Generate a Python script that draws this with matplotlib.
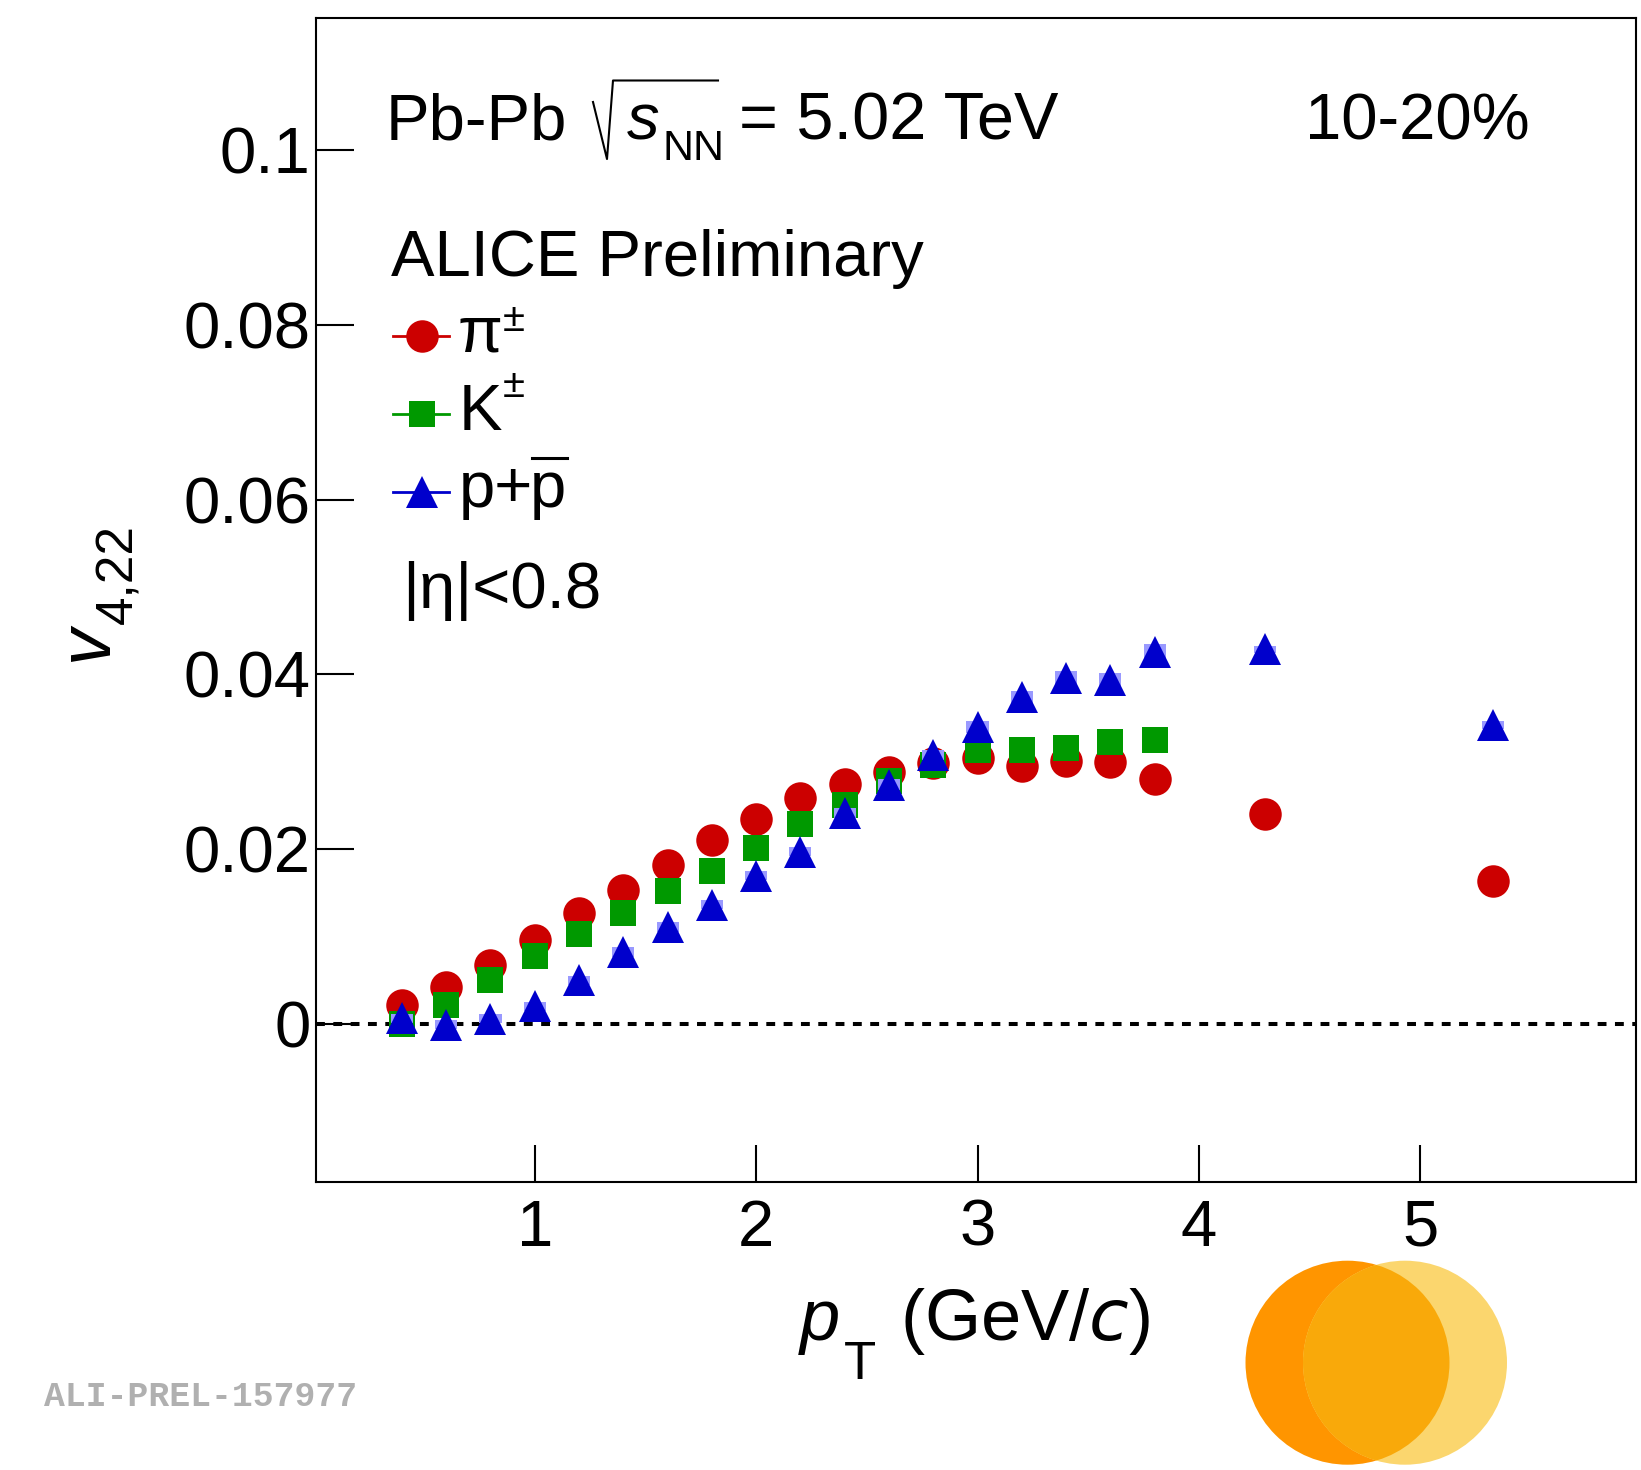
import matplotlib
matplotlib.use('Agg')
import matplotlib.pyplot as plt
from matplotlib.lines import Line2D
from matplotlib.patches import Ellipse

W, H = 1641, 1470
plt.rcParams['font.family'] = ['Liberation Sans', 'DejaVu Sans']

# ---------------- data ----------------
pt_pi = [0.4, 0.6, 0.8, 1.0, 1.2, 1.4, 1.6, 1.8, 2.0, 2.2, 2.4, 2.6, 2.8, 3.0, 3.2, 3.4, 3.6, 3.8, 4.3, 5.33]
v4_pi = [0.00218, 0.0042, 0.00676, 0.00954, 0.0127, 0.01532, 0.01821, 0.02103, 0.02341, 0.02585,
         0.02746, 0.02879, 0.02984, 0.03041, 0.02951, 0.03011, 0.02999, 0.02803, 0.02404, 0.01634]

pt_k = [0.4, 0.6, 0.8, 1.0, 1.2, 1.4, 1.6, 1.8, 2.0, 2.2, 2.4, 2.6, 2.8, 3.0, 3.2, 3.4, 3.6, 3.8]
v4_k = [0.0000, 0.00214, 0.0050, 0.0078, 0.0103, 0.01271, 0.0152, 0.01746, 0.02007, 0.02286,
        0.02503, 0.02782, 0.02967, 0.03133, 0.03139, 0.03162, 0.03226, 0.03243]

pt_p = [0.4, 0.6, 0.8, 1.0, 1.2, 1.4, 1.6, 1.8, 2.0, 2.2, 2.4, 2.6, 2.8, 3.0, 3.2, 3.4, 3.6, 3.8, 4.3, 5.33]
v4_p = [0.00065, -0.0001, 0.0006, 0.0020, 0.0050, 0.0082, 0.01113, 0.01365, 0.01695, 0.01971,
        0.0241, 0.02736, 0.03074, 0.03398, 0.03743, 0.03958, 0.0393, 0.0426, 0.04289, 0.03417]
syst_p = [0.0005, 0.0005, 0.0005, 0.0005, 0.0005, 0.00057, 0.00057, 0.0005, 0.0005, 0.00055,
          0.0006, 0.0006, 0.0006, 0.00065, 0.0007, 0.00084, 0.0008, 0.00084, 0.0004, 0.00046]

xticks = [1, 2, 3, 4, 5]
xtick_labels = ['1', '2', '3', '4', '5']
yticks = [0, 0.02, 0.04, 0.06, 0.08, 0.1]
ytick_labels = ['0', '0.02', '0.04', '0.06', '0.08', '0.1']

C_PI, C_K, C_P = '#cc0000', '#009900', '#0000cc'
C_SYS_P = '#9999ff'

# ---------------- figure ----------------
fig = plt.figure(figsize=(W / 100, H / 100), dpi=100)


def F(x, y):
    return x / W, 1 - y / H


ax = fig.add_axes([316 / W, 1 - 1182 / H, (1636 - 316) / W, (1182 - 18) / H])
ax.set_xlim(0.012, 5.974)
ax.set_ylim(-0.0181, 0.1151)

ax.axhline(0, color='k', lw=2.9, ls=(0, (2.2, 2.1)), zorder=1)
ax.plot(pt_pi, v4_pi, 'o', ms=23.4, color=C_PI, mew=0, zorder=3)
ax.plot(pt_k, v4_k, 's', ms=19, color=C_K, mew=0, zorder=4)
ax.bar(pt_p, [2 * s for s in syst_p], bottom=[v - s for v, s in zip(v4_p, syst_p)],
       width=0.1, color=C_SYS_P, lw=0, zorder=5)
ax.plot(pt_p, v4_p, '^', ms=23.4, color=C_P, mew=0, zorder=6)

ax.set_xticks(xticks)
ax.set_xticklabels(xtick_labels)
ax.set_yticks(yticks)
ax.set_yticklabels(ytick_labels)
ax.tick_params(axis='both', direction='in', length=27, width=1.5, labelsize=47)
ax.tick_params(axis='x', pad=12)
ax.tick_params(axis='y', pad=4)
ax.minorticks_off()
for sp in ax.spines.values():
    sp.set_linewidth(1.5)

# ---------------- texts ----------------
FS = 47
fig.text(*F(386, 139), 'Pb-Pb', fontsize=FS, va='baseline', ha='left')
fig.add_artist(Line2D([593 / W, 607 / W, 613 / W, 718 / W],
                      [1 - 102 / H, 1 - 159 / H, 1 - 80.5 / H, 1 - 80.5 / H],
                      transform=fig.transFigure, color='k', lw=1.5))
fig.text(*F(627, 139), 's', fontsize=FS, style='italic', va='baseline', ha='left')
fig.text(*F(662, 160), 'NN', fontsize=31, va='baseline', ha='left')
fig.text(*F(739, 139), '= 5.02 TeV', fontsize=48, va='baseline', ha='left')
fig.text(*F(1305, 139), '10-20%', fontsize=FS, va='baseline', ha='left')
fig.text(*F(391, 276), 'ALICE Preliminary', fontsize=FS, va='baseline', ha='left')

# legend
leg = [(336, C_PI, 'o', 23.4), (414, C_K, 's', 19), (492, C_P, '^', 23.4)]
for y, c, m, ms in leg:
    fig.add_artist(Line2D([393 / W, 449 / W], [1 - y / H] * 2, transform=fig.transFigure,
                          color=c, lw=2))
    fig.add_artist(Line2D([421.5 / W], [1 - y / H], transform=fig.transFigure,
                          color=c, marker=m, ms=ms, mew=0, ls='none'))
fig.text(*F(458, 351), 'π', fontsize=FS, va='baseline', ha='left')
fig.text(*F(503, 331), '±', fontsize=29, va='baseline', ha='left')
fig.text(*F(459, 430), 'K', fontsize=FS, va='baseline', ha='left')
fig.text(*F(503, 397), '±', fontsize=29, va='baseline', ha='left')
fig.text(*F(459, 507), 'p+', fontsize=FS, va='baseline', ha='left')
fig.text(*F(530, 507), 'p', fontsize=FS, va='baseline', ha='left')
fig.add_artist(Line2D([532 / W, 567 / W], [1 - 458 / H] * 2, transform=fig.transFigure,
                      color='k', lw=2.2))
fig.text(*F(402, 608), '|η|<0.8', fontsize=FS, va='baseline', ha='left')

# axis titles
fig.text(*F(107, 643), 'v', fontsize=53, style='italic', rotation=90,
         rotation_mode='anchor', ha='center', va='baseline')
fig.text(*F(132, 574), '4,22', fontsize=37, rotation=90,
         rotation_mode='anchor', ha='center', va='baseline')
fig.text(*F(800, 1340), 'p', fontsize=52, style='italic', va='baseline', ha='left')
fig.text(*F(860, 1379), 'T', fontsize=38, va='baseline', ha='center')
fig.text(*F(900, 1340), '(GeV/$\\mathit{c}$)', fontsize=52, va='baseline', ha='left')

# ALICE preliminary tag
fig.text(*F(44, 1396), 'ALI-PREL-157977', fontsize=25, family='Liberation Mono',
         weight='bold', color='#b0b0b0', va='center', ha='left')

# logo
r = 102
left = Ellipse(F(1347.5, 1362.7), 2 * r / W, 2 * r / H, transform=fig.transFigure,
               color='#ff9500', lw=0)
right = Ellipse(F(1405, 1362.7), 2 * r / W, 2 * r / H, transform=fig.transFigure,
                color='#fbd66e', lw=0)
fig.add_artist(left)
fig.add_artist(right)
over = Ellipse(F(1405, 1362.7), 2 * r / W, 2 * r / H, transform=fig.transFigure,
               color='#f9a90a', lw=0)
fig.add_artist(over)
over.set_clip_path(left)

fig.savefig('out.png', dpi=100)
